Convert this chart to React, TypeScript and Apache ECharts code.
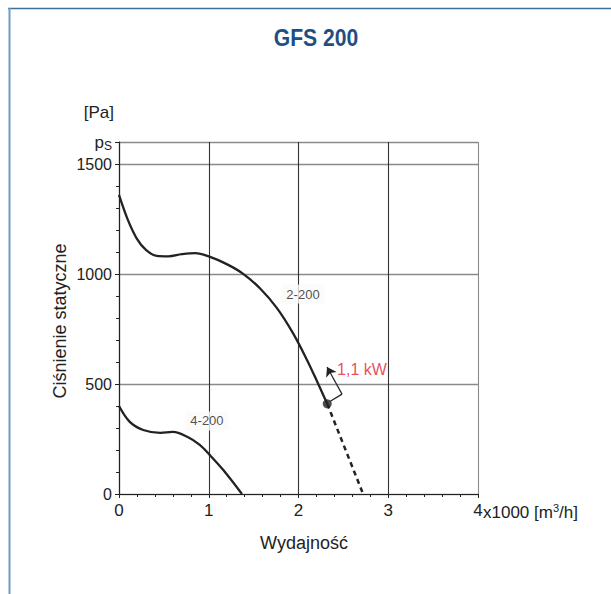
import React, { useEffect, useRef } from "react";
import * as echarts from "echarts";

// Flow in x1000 m3/h, static pressure in Pa
const curve2200: [number, number][] = [
  [0, 1360], [0.1, 1245], [0.2, 1160], [0.3, 1110], [0.42, 1082], [0.55, 1080],
  [0.7, 1090], [0.85, 1095], [1.0, 1080], [1.2, 1045], [1.38, 1002], [1.57, 935],
  [1.76, 845], [1.94, 730], [2.1, 605], [2.22, 500], [2.32, 410],
];
const curve2200Dashed: [number, number][] = [[2.32, 410], [2.72, 0]];
const curve4200: [number, number][] = [
  [0, 400], [0.12, 328], [0.27, 291], [0.46, 278], [0.6, 282], [0.76, 260],
  [0.9, 223], [1.01, 178], [1.16, 110], [1.37, 0],
];
const operatingPoint: [number, number][] = [[2.32, 410]];
const curveLabels = [
  { name: "2-200", value: [2.05, 909] },
  { name: "4-200", value: [0.98, 332] },
];
const powerLabel = [{ name: "1,1 kW", value: [2.43, 564] }];
const bracketStart: [number, number] = [2.35, 420];
const bracketCorner: [number, number] = [2.485, 454];
const arrowTip: [number, number] = [2.318, 577];
const xTicks = [0, 1, 2, 3, 4];
const yMax = 1600;
const titleText = "GFS 200";
const yTitle = "Ciśnienie statyczne";
const xTitle = "Wydajność";

const FONT = "'Liberation Sans', Arial, sans-serif";

export default function App() {
  const ref = useRef<HTMLDivElement>(null);
  useEffect(() => {
    if (!ref.current) return;
    const chart = echarts.init(ref.current, undefined, { renderer: "svg" });
    chart.setOption({
      animation: false,
      backgroundColor: "#ffffff",
      textStyle: { fontFamily: FONT },
      graphic: [
        { type: "line", shape: { x1: 8, y1: 8.5, x2: 611, y2: 8.5 }, style: { stroke: "#3d6e9e", lineWidth: 1.5 } },
        { type: "line", shape: { x1: 9.5, y1: 8, x2: 9.5, y2: 594 }, style: { stroke: "#6f9cc4", lineWidth: 2 } },
        {
          type: "text", x: 316, y: 38, scaleX: 0.88,
          style: {
            text: titleText, fill: "#1f4f82", font: "bold 24px 'Liberation Sans', Arial, sans-serif",
            textAlign: "center", textVerticalAlign: "middle",
          },
        },
        {
          type: "text", x: 60, y: 321, rotation: Math.PI / 2,
          style: {
            text: yTitle, fill: "#222", font: "18px 'Liberation Sans', Arial, sans-serif",
            textAlign: "center", textVerticalAlign: "middle",
          },
        },
        {
          type: "text", x: 304, y: 543,
          style: {
            text: xTitle, fill: "#222", font: "18px 'Liberation Sans', Arial, sans-serif",
            textAlign: "center", textVerticalAlign: "middle",
          },
        },
      ],
      grid: { left: 119, right: 133, top: 142, bottom: 100, show: false },
      xAxis: {
        type: "value", min: xTicks[0], max: xTicks[xTicks.length - 1], interval: 1,
        axisLine: { lineStyle: { color: "#222", width: 1.2 } },
        axisTick: { length: 4, lineStyle: { color: "#222" } },
        minorTick: { show: true, splitNumber: 5, length: 3, lineStyle: { color: "#222" } },
        splitLine: { show: true, lineStyle: { color: ["#333", "#333", "#333", "#333", "#8a8a8a"], width: 1.1 } },
        axisLabel: { color: "#222", fontSize: 17, fontFamily: FONT, margin: 8 },
        name: "{a|x1000 [m}{s|3}{a|/h]}",
        nameLocation: "end", nameGap: 5,
        nameMoveOverlap: false,
        nameTextStyle: {
          verticalAlign: "top", align: "left", padding: [8, 0, 0, 0],
          rich: {
            a: { fontSize: 17, color: "#222", fontFamily: FONT },
            s: { fontSize: 11, color: "#222", fontFamily: FONT, padding: [0, 0, 10, 0] },
          },
        },
      },
      yAxis: {
        type: "value", min: 0, max: yMax, interval: 500,
        axisLine: { lineStyle: { color: "#222", width: 1.2 } },
        axisTick: { length: 4, lineStyle: { color: "#222" } },
        minorTick: { show: true, splitNumber: 5, length: 3, lineStyle: { color: "#222" } },
        splitLine: { show: true, lineStyle: { color: "#8a8a8a", width: 1.4 } },
        axisLabel: {
          color: "#222", fontSize: 16, fontFamily: FONT, margin: 7,
          formatter: (v: number) => (v === yMax ? "{p|p}{s|S}" : String(v)),
          rich: {
            p: { fontSize: 17, color: "#222", fontFamily: FONT },
            s: { fontSize: 12, color: "#222", fontFamily: FONT, padding: [7, 0, 0, 0] },
          },
        },
        name: "[Pa]",
        nameLocation: "end", nameGap: 30,
        nameMoveOverlap: false,
        nameTextStyle: { fontSize: 17, color: "#222", align: "right", verticalAlign: "middle", padding: [0, 5, 0, 0], fontFamily: FONT },
      },
      series: [
        {
          type: "line", data: curve2200, smooth: 0.35, showSymbol: false, silent: true,
          lineStyle: { color: "#222", width: 2.3 },
        },
        {
          type: "line", data: curve2200Dashed, showSymbol: false, silent: true,
          lineStyle: { color: "#222", width: 2.5, type: [5, 4] },
          markLine: {
            silent: true, symbol: ["none", "none"], symbolSize: 9, animation: false,
            label: { show: false },
            lineStyle: { color: "#222", width: 1.2, type: "solid" },
            data: [
              [{ coord: bracketStart }, { coord: bracketCorner }],
              [{ coord: bracketCorner }, { coord: arrowTip, symbol: "arrow" }],
            ],
          },
        },
        {
          type: "line", data: curve4200, smooth: 0.35, showSymbol: false, silent: true,
          lineStyle: { color: "#222", width: 2.3 },
        },
        {
          type: "scatter", data: operatingPoint, symbolSize: 9, silent: true,
          itemStyle: { color: "#222" },
        },
        {
          type: "scatter", data: curveLabels, symbolSize: 1, silent: true, z: 5,
          itemStyle: { color: "rgba(0,0,0,0)" },
          label: {
            show: true, position: "inside", formatter: "{b}", color: "#222", fontSize: 13,
            fontFamily: FONT, backgroundColor: "#fafafa", padding: [3, 5],
          },
        },
        {
          type: "scatter", data: powerLabel, symbolSize: 1, silent: true,
          itemStyle: { color: "rgba(0,0,0,0)" },
          label: {
            show: true, position: "inside", align: "left", verticalAlign: "middle",
            formatter: "{b}", color: "#e5202e", fontSize: 16, fontFamily: FONT,
          },
        },
      ],
    });
    return () => chart.dispose();
  }, []);
  return (
    <div
      ref={ref}
      style={{ position: "absolute", left: 0, top: 0, width: 611, height: 594 }}
    />
  );
}
